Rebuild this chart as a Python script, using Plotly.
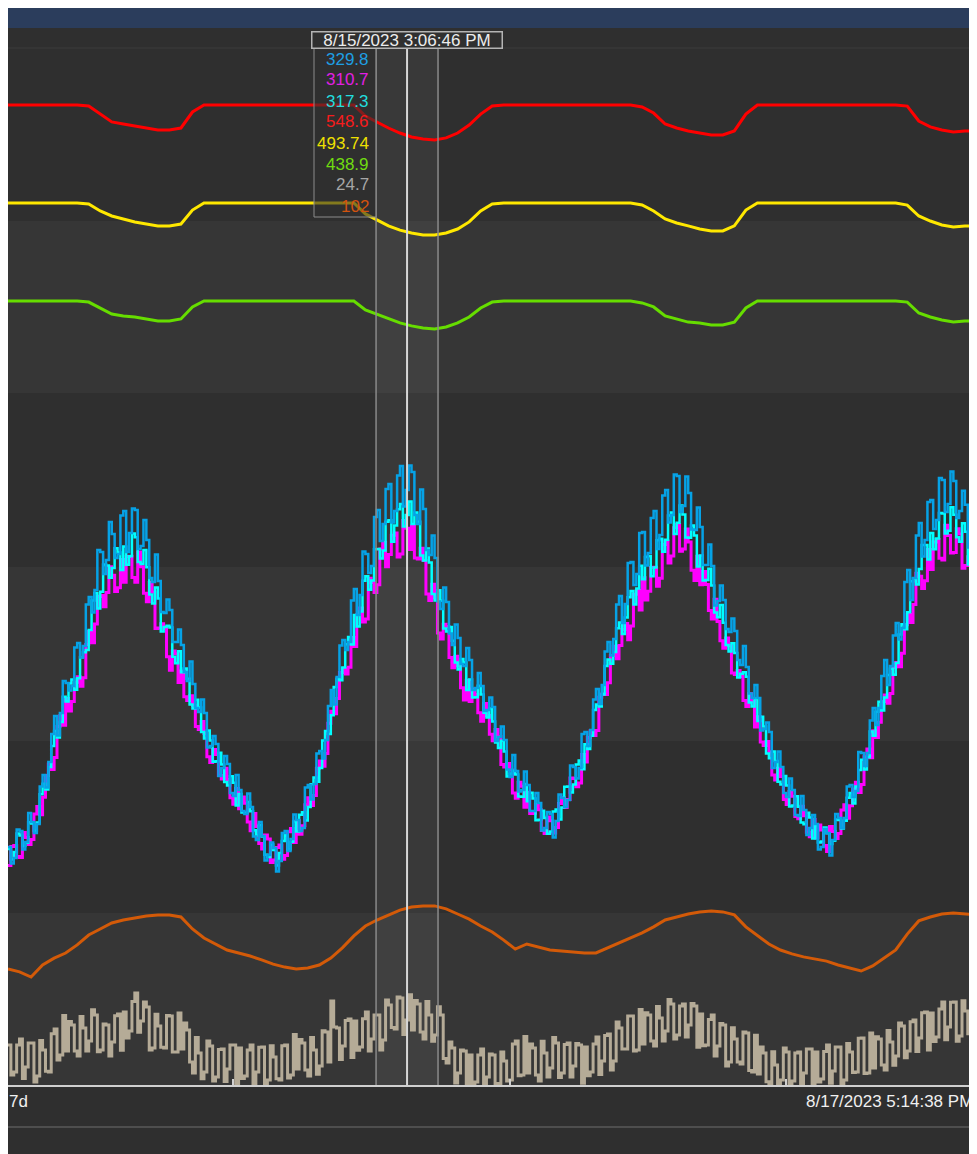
import pandas as pd
import plotly.graph_objects as go

# ---------------- data ----------------
t_hourly = pd.date_range("2023-08-14 04:30", periods=85, freq="60min")
t_quarter = pd.date_range("2023-08-14 04:30", periods=337, freq="15min")

red = [567.2, 567.2, 567.2, 567.2, 567.2, 567.2, 567.2, 566.6, 562.0, 557.5,
       556.3, 555.2, 554.0, 552.9, 552.9, 554.0, 563.2, 567.2, 567.2, 567.2,
       567.2, 567.2, 567.2, 567.2, 567.2, 567.2, 567.2, 567.2, 567.2, 567.2,
       567.2, 560.9, 557.5, 554.0, 551.1, 548.8, 547.7, 547.1, 548.3, 551.1,
       555.7, 562.0, 566.6, 567.2, 567.2, 567.2, 567.2, 567.2, 567.2, 567.2,
       567.2, 567.2, 567.2, 567.2, 567.2, 566.1, 562.6, 556.3, 554.0, 552.3,
       551.1, 550.0, 550.0, 552.3, 562.0, 567.2, 567.2, 567.2, 567.2, 567.2,
       567.2, 567.2, 567.2, 567.2, 567.2, 567.2, 567.2, 567.2, 566.6, 558.0,
       554.6, 552.9, 551.7, 552.3, 552.3]

yellow = [510.9, 510.9, 510.9, 510.9, 510.9, 510.9, 510.9, 510.3, 506.3, 503.4,
          501.7, 500.0, 498.8, 497.7, 497.7, 498.8, 506.8, 510.9, 510.9, 510.9,
          510.9, 510.9, 510.9, 510.9, 510.9, 510.9, 510.9, 510.9, 510.9, 510.9,
          510.9, 504.6, 501.1, 497.7, 495.3, 493.6, 492.5, 492.5, 493.6, 495.9,
          500.0, 506.3, 510.3, 510.9, 510.9, 510.9, 510.9, 510.9, 510.9, 510.9,
          510.9, 510.9, 510.9, 510.9, 510.9, 509.7, 506.3, 501.7, 499.4, 497.7,
          495.9, 494.8, 494.8, 497.7, 506.8, 510.9, 510.9, 510.9, 510.9, 510.9,
          510.9, 510.9, 510.9, 510.9, 510.9, 510.9, 510.9, 510.9, 509.7, 503.4,
          500.5, 498.2, 497.1, 497.7, 497.7]

green = [454.5, 454.5, 454.5, 454.5, 454.5, 454.5, 454.5, 453.9, 450.5, 447.0,
         445.9, 445.3, 444.2, 443.0, 443.0, 444.2, 451.1, 454.5, 454.5, 454.5,
         454.5, 454.5, 454.5, 454.5, 454.5, 454.5, 454.5, 454.5, 454.5, 454.5,
         454.5, 449.4, 447.0, 444.2, 441.9, 440.2, 439.0, 438.4, 439.6, 441.9,
         445.3, 450.5, 453.9, 454.5, 454.5, 454.5, 454.5, 454.5, 454.5, 454.5,
         454.5, 454.5, 454.5, 454.5, 454.5, 453.4, 451.1, 445.9, 444.2, 442.4,
         441.9, 440.7, 440.7, 442.4, 450.5, 454.5, 454.5, 454.5, 454.5, 454.5,
         454.5, 454.5, 454.5, 454.5, 454.5, 454.5, 454.5, 454.5, 453.9, 447.6,
         445.3, 443.6, 442.4, 443.0, 443.0]

orange = [81.7, 80.7, 79.0, 83.0, 85.3, 87.0, 89.7, 93.0, 95.0, 97.0,
          98.0, 98.7, 99.3, 99.7, 99.7, 99.0, 95.0, 92.0, 90.0, 88.0,
          87.0, 86.0, 84.7, 83.3, 82.3, 81.7, 82.0, 83.0, 85.3, 88.7,
          92.7, 96.0, 98.0, 99.7, 101.3, 102.3, 102.7, 102.7, 101.7, 100.0,
          98.3, 96.0, 94.0, 91.3, 88.3, 90.0, 89.0, 88.0, 87.7, 87.3,
          87.0, 87.0, 88.7, 90.3, 92.0, 93.7, 95.7, 98.0, 99.0, 100.0,
          100.7, 101.0, 100.7, 99.7, 95.7, 92.7, 90.0, 88.0, 86.7, 85.7,
          85.0, 84.3, 83.0, 82.0, 81.0, 82.7, 85.3, 88.0, 93.3, 97.7,
          99.0, 100.0, 100.3, 100.0, 99.7]

blue = [151.3, 143.0, 145.8, 160.0, 159.3, 150.0, 153.8, 168.3, 163.8, 158.3,
        162.8, 181.6, 187.3, 181.0, 193.8, 207.8, 216.8, 207.0, 218.3, 234.3,
        233.3, 229.6, 231.8, 251.0, 253.3, 246.0, 251.8, 272.6, 276.3, 268.6,
        279.8, 299.8, 298.8, 287.8, 294.8, 313.8, 307.8, 295.8, 297.8, 317.1,
        319.3, 298.8, 308.3, 320.6, 319.8, 300.3, 301.8, 314.8, 304.8, 285.8,
        283.8, 297.6, 284.3, 268.8, 268.3, 275.1, 269.8, 253.8, 253.8, 260.1,
        252.3, 238.8, 234.3, 244.1, 232.8, 220.8, 218.8, 225.1, 218.3, 201.1,
        201.8, 206.8, 202.8, 186.8, 190.8, 196.8, 192.8, 178.3, 176.8, 187.3,
        179.8, 169.3, 167.8, 178.1, 171.3, 156.6, 154.8, 163.8, 156.8, 144.6,
        147.3, 153.6, 150.8, 139.1, 144.3, 158.3, 159.3, 149.3, 155.3, 167.6,
        164.8, 159.3, 160.8, 181.1, 182.3, 175.1, 182.8, 198.1, 199.3, 195.6,
        204.8, 221.8, 229.8, 222.6, 236.3, 252.1, 254.8, 249.8, 253.8, 274.6,
        280.3, 267.3, 277.3, 299.1, 297.8, 288.3, 291.8, 316.3, 319.8, 304.3,
        312.8, 330.3, 332.8, 313.6, 319.3, 337.1, 341.8, 321.6, 329.8, 342.1,
        338.8, 317.3, 312.8, 330.1, 320.3, 299.8, 297.3, 307.1, 295.8, 274.1,
        270.3, 281.1, 273.8, 258.1, 252.3, 262.6, 255.8, 242.8, 241.8, 250.8,
        244.8, 229.8, 230.8, 238.3, 231.8, 219.3, 219.8, 226.1, 221.3, 204.3,
        206.3, 211.6, 204.8, 190.1, 186.3, 197.3, 189.3, 179.1, 179.8, 189.1,
        182.3, 169.3, 169.3, 178.3, 173.3, 159.6, 160.8, 168.8, 167.8, 156.1,
        164.3, 177.6, 175.8, 171.3, 174.8, 192.1, 191.3, 185.6, 190.8, 207.8,
        208.8, 201.8, 209.8, 225.1, 230.3, 222.8, 232.3, 249.1, 253.8, 247.1,
        255.3, 272.6, 276.8, 263.3, 272.8, 293.3, 293.8, 282.3, 287.8, 308.3,
        308.8, 292.1, 298.3, 315.8, 319.3, 300.3, 307.3, 327.1, 329.8, 313.6,
        317.3, 337.6, 336.8, 318.8, 321.8, 336.6, 328.3, 310.1, 309.8, 321.1,
        311.3, 292.3, 292.3, 302.6, 291.8, 272.1, 274.3, 282.1, 274.8, 260.3,
        258.8, 265.6, 259.3, 244.8, 242.3, 251.8, 241.3, 228.1, 225.8, 232.3,
        225.8, 209.6, 210.3, 213.6, 208.8, 190.8, 193.8, 199.1, 191.3, 178.3,
        176.3, 185.6, 179.8, 167.3, 166.8, 176.8, 169.8, 157.3, 160.8, 167.3,
        162.8, 150.1, 151.3, 160.3, 158.3, 147.1, 154.8, 167.8, 165.8, 160.8,
        165.8, 181.6, 182.3, 176.3, 179.3, 198.8, 198.3, 191.8, 198.3, 214.6,
        220.8, 212.3, 220.8, 236.8, 244.8, 232.3, 241.8, 257.1, 263.3, 255.1,
        260.8, 283.8, 289.8, 274.8, 285.8, 307.1, 313.3, 296.6, 304.8, 323.8,
        324.8, 310.3, 314.8, 335.8, 334.8, 318.8, 322.8, 339.1, 334.3, 315.8,
        319.3, 329.4, 322.4, 301.1, 302.8, 312.8, 304.8]

cyan = [150.3, 145.1, 148.8, 158.0, 157.1, 151.8, 153.4, 163.7, 163.0, 159.3,
        163.5, 177.7, 182.9, 180.1, 191.3, 201.8, 209.3, 206.1, 213.8, 226.4,
        224.0, 233.0, 235.0, 229.9, 235.7, 246.2, 248.7, 249.8, 259.8, 274.6,
        278.3, 270.6, 278.9, 292.5, 292.0, 285.9, 290.8, 300.7, 298.6, 289.8,
        301.5, 292.4, 296.7, 308.0, 306.2, 293.8, 292.8, 299.8, 291.2, 277.6,
        273.0, 281.1, 275.6, 259.0, 261.3, 261.9, 261.0, 246.4, 243.2, 249.2,
        238.7, 240.6, 235.4, 222.5, 220.6, 224.9, 221.1, 208.8, 205.5, 209.6,
        204.6, 193.9, 194.2, 198.4, 192.6, 183.8, 182.0, 186.7, 183.4, 172.1,
        177.8, 168.6, 168.3, 173.8, 169.2, 159.7, 157.1, 162.3, 156.5, 147.4,
        146.3, 152.6, 149.8, 142.1, 148.3, 154.3, 157.2, 150.1, 153.9, 164.0,
        159.0, 167.4, 168.7, 164.5, 171.3, 182.7, 186.0, 183.9, 190.8, 204.6,
        209.3, 207.8, 217.2, 231.3, 235.4, 234.7, 241.0, 252.7, 256.3, 252.6,
        267.3, 261.5, 269.1, 284.4, 286.7, 279.9, 284.5, 300.2, 300.3, 295.5,
        299.6, 313.9, 314.7, 303.9, 312.1, 320.2, 322.8, 311.6, 317.3, 324.1,
        312.8, 318.6, 313.9, 297.0, 294.6, 300.6, 293.5, 277.8, 274.5, 279.7,
        274.4, 260.5, 259.1, 261.3, 254.4, 243.5, 240.0, 245.3, 243.5, 229.8,
        235.0, 226.1, 226.2, 231.9, 227.6, 218.4, 216.1, 220.6, 214.1, 203.5,
        200.8, 204.4, 199.0, 186.6, 188.1, 189.4, 187.6, 176.5, 176.4, 182.8,
        174.2, 178.4, 175.5, 164.7, 164.9, 169.4, 165.8, 157.9, 159.0, 169.0,
        170.0, 165.1, 171.1, 181.4, 181.6, 178.6, 182.5, 192.6, 194.6, 190.2,
        202.7, 200.3, 206.9, 219.8, 222.6, 221.6, 227.6, 241.8, 245.0, 242.9,
        248.8, 260.7, 263.6, 257.8, 266.0, 276.2, 279.3, 272.5, 280.6, 291.9,
        285.2, 296.3, 296.8, 286.7, 291.0, 304.7, 305.4, 298.9, 304.9, 317.0,
        318.6, 307.8, 313.4, 322.0, 317.6, 306.0, 305.9, 312.0, 307.1, 291.6,
        297.1, 284.5, 284.8, 290.4, 282.0, 268.6, 266.2, 272.3, 263.4, 252.3,
        249.1, 253.2, 248.3, 236.1, 237.9, 238.7, 236.4, 223.5, 221.6, 225.5,
        214.3, 216.4, 211.5, 198.1, 195.7, 199.0, 194.3, 183.9, 182.5, 186.8,
        182.1, 171.6, 172.0, 176.7, 171.4, 163.6, 162.7, 168.4, 166.0, 155.6,
        162.2, 153.6, 154.0, 161.1, 158.2, 152.8, 154.4, 165.1, 164.8, 160.6,
        164.4, 175.9, 178.3, 173.0, 181.6, 189.8, 194.9, 190.1, 196.2, 209.1,
        206.9, 218.9, 223.9, 219.5, 226.1, 237.3, 240.4, 237.4, 243.3, 257.5,
        262.7, 260.2, 268.7, 284.2, 285.6, 282.5, 290.3, 302.3, 302.3, 295.1,
        308.3, 300.2, 305.5, 318.3, 318.1, 308.0, 309.4, 321.2, 317.4, 306.2,
        303.9, 313.2, 308.9, 292.5, 295.0, 297.8, 295.0]

magenta = [142.0, 151.5, 152.0, 146.5, 146.0, 158.5, 156.0, 152.5, 155.0, 167.8,
           171.6, 167.4, 176.2, 187.0, 192.8, 190.0, 196.1, 211.5, 216.9, 212.2,
           225.5, 219.3, 224.0, 233.7, 236.4, 231.7, 235.9, 252.5, 259.0, 253.4,
           262.8, 276.5, 277.1, 271.4, 278.6, 291.4, 287.2, 279.1, 280.9, 295.1,
           283.7, 296.5, 296.7, 286.0, 283.7, 298.8, 291.4, 278.2, 273.9, 283.6,
           278.8, 260.6, 260.8, 262.9, 260.5, 246.4, 239.7, 249.3, 247.9, 233.6,
           239.3, 226.4, 224.5, 226.9, 222.2, 211.6, 210.0, 214.1, 208.1, 196.4,
           193.6, 200.1, 197.6, 187.0, 185.3, 190.7, 185.0, 175.9, 172.7, 180.6,
           170.4, 176.3, 173.2, 163.8, 159.4, 168.0, 161.6, 153.0, 150.3, 157.3,
           155.3, 143.6, 144.8, 151.1, 152.3, 145.2, 147.1, 158.9, 160.6, 153.5,
           164.4, 157.7, 161.9, 172.4, 175.9, 172.0, 177.0, 190.7, 194.3, 191.7,
           198.1, 213.2, 219.2, 217.9, 225.5, 238.5, 240.4, 237.8, 241.2, 256.1,
           251.5, 267.4, 270.8, 263.8, 265.3, 285.7, 283.6, 278.5, 282.4, 300.3,
           303.7, 291.4, 297.5, 307.2, 308.3, 296.3, 297.8, 314.6, 310.7, 300.1,
           311.8, 295.8, 295.3, 300.7, 294.5, 277.8, 274.6, 282.7, 275.8, 258.3,
           255.3, 262.7, 261.5, 246.0, 240.9, 246.7, 241.9, 230.9, 224.8, 234.7,
           224.0, 230.3, 227.5, 218.4, 214.2, 223.1, 217.0, 207.7, 204.4, 210.0,
           206.6, 192.5, 191.3, 193.1, 189.8, 178.3, 175.7, 183.7, 181.7, 171.2,
           178.7, 168.0, 168.2, 172.6, 169.9, 159.5, 158.1, 166.3, 164.4, 158.3,
           161.1, 173.0, 175.9, 171.0, 175.0, 185.8, 185.5, 181.4, 183.3, 197.6,
           193.8, 206.1, 209.4, 207.0, 209.5, 226.2, 227.8, 227.6, 233.4, 247.1,
           251.7, 245.4, 252.0, 260.0, 263.0, 254.9, 261.8, 277.7, 279.6, 269.8,
           285.9, 274.8, 279.2, 291.0, 291.2, 281.7, 285.7, 302.5, 304.3, 293.3,
           296.8, 310.9, 312.5, 299.2, 300.3, 310.3, 303.8, 289.7, 284.5, 296.7,
           282.4, 289.0, 282.6, 269.5, 265.3, 275.2, 264.0, 254.4, 250.7, 255.8,
           251.9, 238.3, 237.6, 239.6, 236.6, 224.6, 221.5, 227.9, 224.2, 211.3,
           216.4, 203.8, 202.1, 204.0, 198.8, 187.3, 184.8, 190.7, 186.5, 175.0,
           172.5, 179.1, 176.7, 166.6, 165.4, 171.7, 166.9, 158.7, 156.4, 165.1,
           155.8, 162.3, 159.8, 152.0, 149.1, 161.6, 159.1, 155.6, 158.1, 169.8,
           172.4, 165.7, 171.9, 180.3, 183.7, 178.6, 182.5, 196.4, 200.3, 195.9,
           209.4, 206.1, 213.7, 224.0, 227.3, 223.2, 228.1, 240.9, 243.6, 241.4,
           248.2, 262.4, 267.5, 263.6, 272.6, 288.2, 286.7, 280.6, 284.4, 300.0,
           290.0, 303.8, 305.0, 295.7, 294.8, 312.2, 307.0, 298.3, 298.5, 310.4,
           307.8, 290.7, 292.1, 296.4, 292.2, 275.2, 271.6]

tan = [16.4, 6.4, 7.4, 16.4, 18.4, 5.2, 9.0, 17.0, 17.0, 4.0,
       6.0, 17.9, 14.7, 7.6, 7.4, 20.1, 21.7, 11.4, 13.0, 26.2,
       14.4, 24.2, 23.0, 14.4, 12.7, 25.9, 22.0, 14.4, 17.7, 28.1,
       26.4, 14.1, 14.7, 23.4, 23.0, 12.7, 17.4, 26.1, 26.7, 14.6,
       27.4, 18.7, 21.0, 30.9, 33.7, 20.6, 24.4, 30.7, 29.0, 14.7,
       15.4, 26.6, 22.7, 15.6, 15.4, 26.2, 26.0, 14.0, 14.0, 27.0,
       15.0, 23.7, 21.4, 10.7, 7.0, 18.9, 13.7, 5.1, 7.4, 17.7,
       16.0, 4.4, 5.7, 14.9, 15.0, 4.2, 8.4, 16.4, 16.4, 3.4,
       15.4, 5.2, 6.0, 14.7, 16.4, 3.4, 7.4, 15.6, 15.7, 3.2,
       4.7, 16.1, 12.4, 5.1, 4.7, 16.1, 16.4, 5.4, 6.4, 19.9,
       8.4, 18.2, 17.0, 8.0, 6.0, 18.9, 14.7, 6.6, 9.4, 21.1,
       20.7, 10.7, 31.0, 22.4, 22.0, 11.5, 16.0, 24.5, 25.0, 12.2,
       24.4, 14.6, 15.7, 25.1, 27.4, 14.4, 18.4, 26.4, 26.4, 14.7,
       18.0, 31.4, 29.7, 22.2, 21.7, 32.4, 32.0, 19.9, 24.7, 33.1,
       21.4, 31.2, 30.0, 20.7, 18.4, 30.9, 26.4, 17.6, 19.7, 29.1,
       26.4, 11.9, 10.4, 17.4, 15.4, 3.7, 7.0, 14.7, 14.4, 3.2,
       13.0, 3.3, 4.0, 13.0, 15.0, 3.2, 5.7, 13.4, 13.0, 3.2,
       3.5, 14.0, 11.0, 4.4, 4.7, 16.7, 17.7, 6.1, 6.4, 19.2,
       7.0, 16.7, 15.4, 6.4, 4.4, 17.6, 13.7, 5.7, 8.7, 18.9,
       17.0, 5.5, 7.0, 16.5, 17.0, 5.7, 9.4, 16.9, 16.4, 3.6,
       15.7, 6.1, 7.4, 16.7, 19.0, 6.5, 11.0, 19.5, 20.0, 8.0,
       11.0, 24.0, 22.0, 15.0, 15.0, 26.0, 26.0, 14.4, 14.7, 28.2,
       16.7, 27.1, 26.4, 17.7, 16.0, 29.2, 25.4, 17.7, 21.0, 31.5,
       30.0, 18.4, 19.7, 29.4, 30.0, 19.0, 23.0, 30.2, 29.4, 15.6,
       26.7, 16.1, 16.4, 24.9, 26.4, 12.7, 16.0, 23.5, 23.0, 9.4,
       10.7, 22.1, 18.4, 10.7, 10.0, 20.7, 20.4, 7.9, 7.4, 19.6,
       6.7, 15.7, 13.7, 4.1, 3.4, 14.1, 9.7, 3.2, 4.7, 15.4,
       14.0, 3.2, 4.4, 13.7, 14.0, 3.2, 7.0, 15.0, 15.0, 3.2,
       14.0, 4.0, 5.0, 14.2, 16.4, 3.6, 7.7, 15.7, 15.7, 3.2,
       4.7, 16.9, 14.0, 7.2, 7.4, 18.6, 18.7, 6.9, 7.0, 20.4,
       8.7, 19.1, 18.4, 9.7, 8.0, 21.2, 17.4, 9.6, 12.7, 23.7,
       22.7, 12.1, 14.4, 24.1, 24.7, 14.2, 18.7, 27.1, 27.4, 14.7,
       27.0, 17.5, 19.0, 28.4, 30.7, 18.1, 22.4, 30.6, 30.7, 17.6,
       19.4, 31.1, 27.7, 20.1, 19.4, 29.9, 29.4]

x_start, x_end = "2023-08-14 04:30:00", "2023-08-17 17:14:38"
cursor_time = "2023-08-15 15:06:46"
hl_start, hl_end = "2023-08-15 12:25:30", "2023-08-15 17:48:00"
cursor_label = "8/15/2023 3:06:46 PM"
end_label = "8/17/2023 5:14:38 PM"
range_label = "7d"
tooltip_values = ["329.8", "310.7", "317.3", "548.6", "493.74", "438.9", "24.7", "102"]
tooltip_colors = ["#1e9fe3", "#e21fe2", "#22dede", "#f51c1c", "#eee000",
                  "#6fdc10", "#a6a6a6", "#d2530e"]
midnights = ["2023-08-15 00:00", "2023-08-16 00:00", "2023-08-17 00:00"]

# ---------------- figure ----------------
# the page has an 8px body margin: page pixel p -> figure pixel p-8
W, H = 977, 1154
MT, MB = 40, 77
PH = H - MT - MB          # 1037
PLOT_TOP_PAGE = 8 + MT    # 48
PLOT_BOT_PAGE = PLOT_TOP_PAGE + PH  # 1085


def py(p):  # page pixel row -> paper y
    return (PLOT_BOT_PAGE - p) / PH


def px(p):  # page pixel column -> paper x
    return (p - 8) / W


FONT = "Liberation Sans, Arial, sans-serif"

fig = go.Figure()
fig.add_trace(go.Scatter(x=t_quarter, y=tan, yaxis="y4", mode="lines",
                         line=dict(color="#b5ab97", width=3, shape="hv")))
fig.add_trace(go.Scatter(x=t_hourly, y=orange, yaxis="y3", mode="lines",
                         line=dict(color="#d35a08", width=3)))
fig.add_trace(go.Scatter(x=t_quarter, y=magenta, yaxis="y2", mode="lines",
                         line=dict(color="#ff00ff", width=3, shape="hv")))
fig.add_trace(go.Scatter(x=t_quarter, y=cyan, yaxis="y2", mode="lines",
                         line=dict(color="#00ffff", width=2.5, shape="hv")))
fig.add_trace(go.Scatter(x=t_quarter, y=blue, yaxis="y2", mode="lines",
                         line=dict(color="#06a2e6", width=2.5, shape="hv")))
fig.add_trace(go.Scatter(x=t_hourly, y=green, yaxis="y", mode="lines",
                         line=dict(color="#66dd00", width=3)))
fig.add_trace(go.Scatter(x=t_hourly, y=yellow, yaxis="y", mode="lines",
                         line=dict(color="#ffe800", width=3)))
fig.add_trace(go.Scatter(x=t_hourly, y=red, yaxis="y", mode="lines",
                         line=dict(color="#ff0000", width=3)))

shapes = []
shapes.append(dict(type="rect", xref="paper", yref="paper", x0=0, x1=1,
                   y0=py(28), y1=py(8), fillcolor="#2b3d5c", line=dict(width=0), layer="below"))
shapes.append(dict(type="rect", xref="paper", yref="paper", x0=0, x1=1,
                   y0=py(H + 8), y1=py(28), fillcolor="#2f2f2f", line=dict(width=0),
                   layer="below"))
for top, bot in [(221, 393), (567, 741), (913, 1085)]:
    shapes.append(dict(type="rect", xref="paper", yref="paper", x0=0, x1=1,
                       y0=py(bot), y1=py(top), fillcolor="#363636",
                       line=dict(width=0), layer="below"))
shapes.append(dict(type="line", xref="paper", yref="paper", x0=0, x1=1, y0=1, y1=1,
                   line=dict(color="#3c3c3c", width=1), layer="below"))
shapes.append(dict(type="line", xref="paper", yref="paper", x0=0, x1=1,
                   y0=py(1127), y1=py(1127), line=dict(color="#5a5a5a", width=1.5),
                   layer="below"))
shapes.append(dict(type="rect", xref="x", yref="paper", x0=hl_start, x1=hl_end, y0=0, y1=1,
                   fillcolor="rgba(255,255,255,0.05)", line=dict(width=0), layer="below"))
for xb in (hl_start, hl_end):
    shapes.append(dict(type="line", xref="x", yref="paper", x0=xb, x1=xb, y0=0, y1=1,
                       line=dict(color="#8a8a8a", width=1.5), layer="above"))
shapes.append(dict(type="line", xref="x", yref="paper", x0=cursor_time, x1=cursor_time,
                   y0=0, y1=1, line=dict(color="#d6d6d6", width=2), layer="above"))
shapes.append(dict(type="rect", xref="paper", yref="paper", x0=px(314), x1=px(376),
                   y0=py(217), y1=py(48), fillcolor="rgba(48,48,48,0.6)",
                   line=dict(color="#8c8c8c", width=1), layer="above"))

annotations = []
annotations.append(dict(x=cursor_time, xref="x", y=py(39.5), yref="paper",
                        text=cursor_label, showarrow=False, xanchor="center",
                        yanchor="middle", width=188, height=14, borderpad=0.5,
                        bordercolor="#b4b4b4", borderwidth=1.5, bgcolor="#303030",
                        font=dict(family=FONT, size=17, color="#ececec")))
for k, (val, col) in enumerate(zip(tooltip_values, tooltip_colors)):
    annotations.append(dict(x=px(371), xref="paper", y=py(59 + 21 * k), yref="paper",
                            text=val, showarrow=False, xanchor="right", yanchor="middle",
                            font=dict(family=FONT, size=17, color=col)))
annotations.append(dict(x=px(7), xref="paper", y=py(1101), yref="paper", text=range_label,
                        showarrow=False, xanchor="left", yanchor="middle",
                        font=dict(family=FONT, size=17, color="#f0f0f0")))
annotations.append(dict(x=px(975), xref="paper", y=py(1101), yref="paper", text=end_label,
                        showarrow=False, xanchor="right", yanchor="middle",
                        font=dict(family=FONT, size=17, color="#f0f0f0")))

hidden = dict(visible=False, showgrid=False, zeroline=False, fixedrange=True)

fig.update_layout(
    width=W, height=H,
    margin=dict(l=0, r=0, t=MT, b=MB, pad=0),
    paper_bgcolor="#2f2f2f",
    plot_bgcolor="rgba(0,0,0,0)",
    showlegend=False,
    hovermode=False,
    shapes=shapes,
    annotations=annotations,
    xaxis=dict(type="date", range=[x_start, x_end],
               showgrid=False, zeroline=False, showline=True, linecolor="#d0d0d0",
               linewidth=2, ticks="inside", ticklen=6, tickwidth=1.5, tickcolor="#d0d0d0",
               tickvals=midnights, showticklabels=False, fixedrange=True),
    yaxis=dict(range=[3.7, 600], **hidden),
    yaxis2=dict(range=[32.3, 550.8], overlaying="y", **hidden),
    yaxis3=dict(range=[43.0, 388.67], overlaying="y", **hidden),
    yaxis4=dict(range=[3.03, 348.7], overlaying="y", **hidden),
)

fig.write_html("out.html")
